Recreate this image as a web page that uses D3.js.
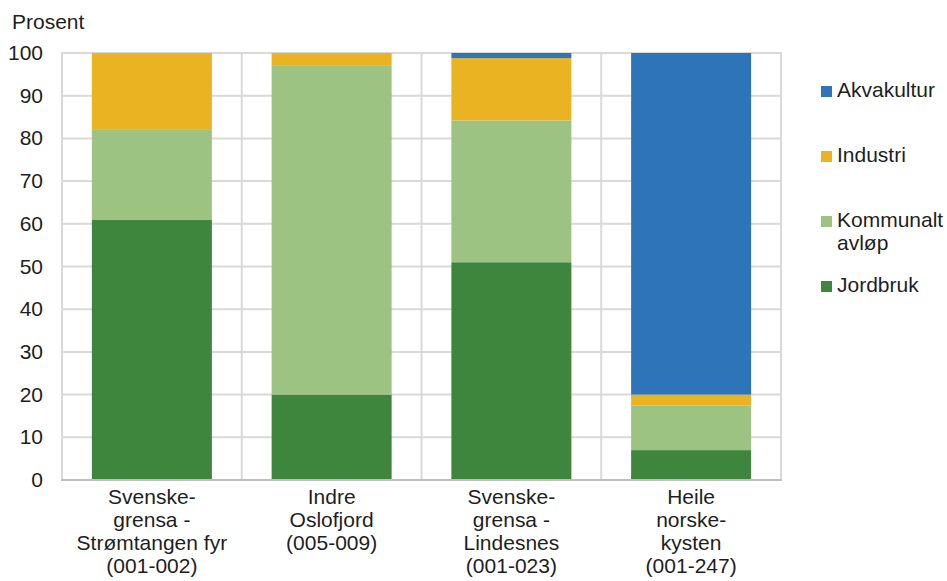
<!DOCTYPE html>
<html><head><meta charset="utf-8">
<script src="https://cdn.jsdelivr.net/npm/d3@7"></script>
<style>body{margin:0;background:#fff}svg{display:block}text{font-family:"Liberation Sans",Arial,sans-serif;fill:#1e1e1e}</style>
</head><body>
<svg id="c" width="947" height="581"></svg>
<script>
const categories = [
  ["Svenske-","grensa -","Strømtangen fyr","(001-002)"],
  ["Indre","Oslofjord","(005-009)"],
  ["Svenske-","grensa -","Lindesnes","(001-023)"],
  ["Heile","norske-","kysten","(001-247)"]
];
const seriesNames = ["Jordbruk","Kommunalt avløp","Industri","Akvakultur"];
const jordbruk   = [61, 20, 51, 7];
const kommunalt  = [21, 77, 33.2, 10.4];
const industri   = [18, 3, 14.6, 2.6];
const akvakultur = [0, 0, 1.2, 80];
const yTicks = [0,10,20,30,40,50,60,70,80,90,100];
const colors = ["#3e863e","#9dc383","#e9b321","#2e74b8"];
const legendLabels = [["Akvakultur"],["Industri"],["Kommunalt","avløp"],["Jordbruk"]];

(function(){
const svg = d3.select("#c");
const pL = 62, pR = 781, pT = 53, pB = 480;
const fs = 20, sx = 1.05, lh = 23.3;
const x = d3.scaleBand().domain(d3.range(categories.length)).range([pL,pR]).paddingInner(0).paddingOuter(0);
const y = d3.scaleLinear().domain([0,100]).range([pB,pT]);

// gridlines
svg.append("g").selectAll("line").data(yTicks.filter(d=>d>0)).join("line")
  .attr("x1",pL).attr("x2",pR).attr("y1",d=>y(d)).attr("y2",d=>y(d))
  .attr("stroke","#d9d9d9").attr("stroke-width",2);
const vb = d3.range(categories.length+1).map(i=> i<categories.length ? x(i) : pR);
svg.append("g").selectAll("line").data(vb).join("line")
  .attr("x1",d=>d).attr("x2",d=>d).attr("y1",pT-1).attr("y2",pB)
  .attr("stroke","#d9d9d9").attr("stroke-width",2);

// stacked data
const rows = categories.map((c,i)=>({i, "Jordbruk":jordbruk[i], "Kommunalt avløp":kommunalt[i], "Industri":industri[i], "Akvakultur":akvakultur[i]}));
const stack = d3.stack().keys(seriesNames)(rows);
const bw = 120;
svg.append("g").selectAll("g").data(stack).join("g")
  .attr("fill",(d,k)=>colors[k])
  .selectAll("rect").data(d=>d).join("rect")
  .attr("x",d=>x(d.data.i)+x.bandwidth()/2-bw/2)
  .attr("width",bw)
  .attr("y",d=>y(d[1]))
  .attr("height",d=>Math.max(0,y(d[0])-y(d[1])));

// x axis line
svg.append("line").attr("x1",pL-1).attr("x2",pR+1).attr("y1",pB).attr("y2",pB)
  .attr("stroke","#bfbfbf").attr("stroke-width",2);

// y tick labels
svg.append("g").selectAll("text").data(yTicks).join("text")
  .attr("transform",d=>`translate(43,${y(d)+7}) scale(${sx},1)`).attr("text-anchor","end")
  .attr("font-size",fs).text(d=>d);
svg.append("text").attr("transform",`translate(12,29) scale(${sx},1)`).attr("font-size",fs).text("Prosent");

// category labels
const cl = svg.append("g").selectAll("text").data(categories).join("text")
  .attr("text-anchor","middle").attr("font-size",fs)
  .attr("transform",(d,i)=>`translate(${x(i)+x.bandwidth()/2},503.5) scale(${sx},1)`);
cl.selectAll("tspan").data(d=>d).join("tspan")
  .attr("x",0).attr("dy",(d,j)=>j===0?0:lh).text(d=>d);

// legend
const legY = [97, 162, 227, 292];
const lg = svg.append("g").selectAll("g").data(legendLabels).join("g")
  .attr("transform",(d,i)=>`translate(821,${legY[i]})`);
lg.append("rect").attr("x",0).attr("y",-11).attr("width",11).attr("height",11)
  .attr("fill",(d,i)=>colors[3-i]);
lg.append("text").attr("font-size",fs).attr("transform",`translate(16,0) scale(${sx},1)`)
  .selectAll("tspan").data(d=>d).join("tspan").attr("x",0).attr("dy",(d,j)=>j===0?0:lh).text(d=>d);
})();
</script>
</body></html>
